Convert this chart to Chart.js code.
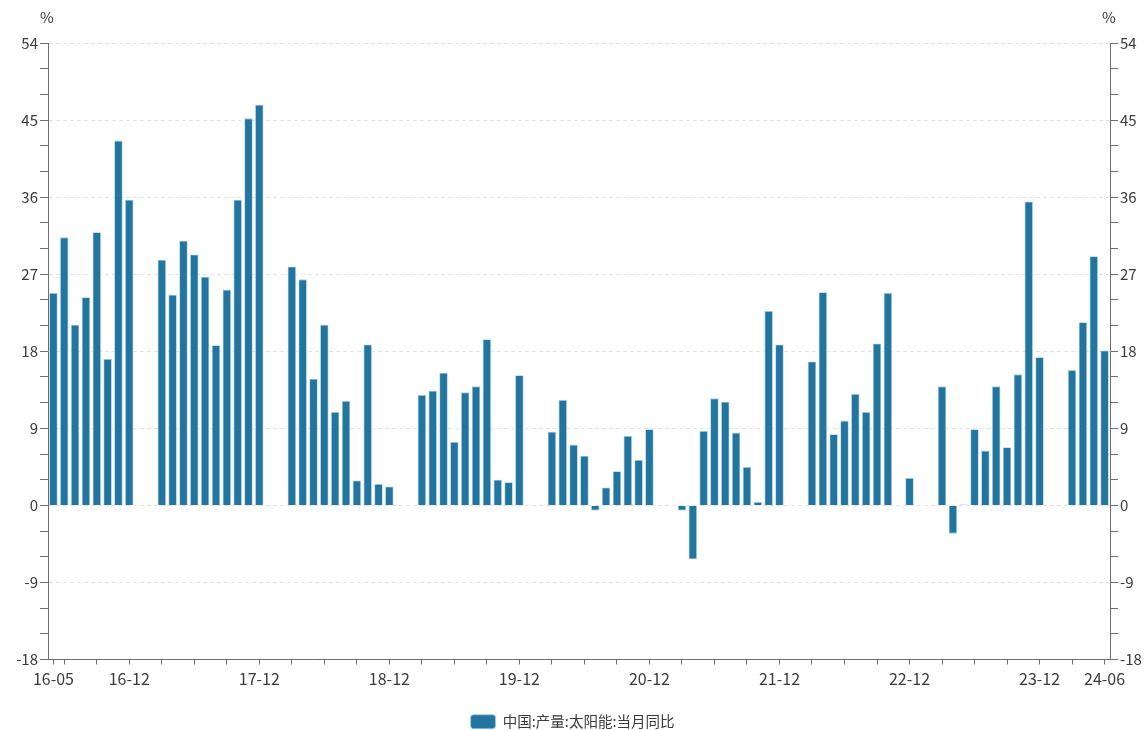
<!DOCTYPE html>
<html>
<head>
<meta charset="utf-8">
<script src="https://cdn.jsdelivr.net/npm/chart.js@4"></script>
<style>
  body { margin: 0; background: #fff; }
  #wrap { width: 1145px; height: 730px; }
</style>
</head>
<body>
<div id="wrap"><canvas id="solarChart"></canvas></div>
<script>
// 中国:产量:太阳能:当月同比 (%), 2016-05 .. 2024-06, 1-2月无数据
const seriesName = '中国:产量:太阳能:当月同比';
const startYear = 2016, startMonth = 5, endYear = 2024, endMonth = 6;

const y2016 = [24.8, 31.3, 21.1, 24.3, 31.9, 17.1, 42.6, 35.7];           // 05-12
const y2017 = [null, null, 28.7, 24.6, 30.9, 29.3, 26.7, 18.7, 25.2, 35.7, 45.2, 46.8];
const y2018 = [null, null, 27.9, 26.4, 14.8, 21.1, 10.9, 12.2, 2.9, 18.8, 2.5, 2.2];
const y2019 = [null, null, 12.9, 13.4, 15.5, 7.4, 13.2, 13.9, 19.4, 3.0, 2.7, 15.2];
const y2020 = [null, null, 8.6, 12.3, 7.1, 5.8, -0.6, 2.1, 4.0, 8.1, 5.3, 8.9];
const y2021 = [null, null, -0.6, -6.3, 8.7, 12.5, 12.1, 8.5, 4.5, 0.4, 22.7, 18.8];
const y2022 = [null, null, 16.8, 24.9, 8.3, 9.9, 13.0, 10.9, 18.9, 24.8, 0.05, 3.2];
const y2023 = [null, null, 13.9, -3.3, 0.1, 8.9, 6.4, 13.9, 6.8, 15.3, 35.5, 17.3];
const y2024 = [null, null, 15.8, 21.4, 29.1, 18.1];                        // 01-06

const tickLabels = ['16-05', '16-12', '17-12', '18-12', '19-12', '20-12', '21-12', '22-12', '23-12', '24-06'];
const yMin = -18, yMax = 54, yStep = 9;

const values = [].concat(y2016, y2017, y2018, y2019, y2020, y2021, y2022, y2023, y2024);

// month labels yy-mm
const labels = [];
for (let y = startYear, m = startMonth; y < endYear || (y === endYear && m <= endMonth); ) {
  labels.push(String(y % 100).padStart(2, '0') + '-' + String(m).padStart(2, '0'));
  m++;
  if (m > 12) { m = 1; y++; }
}

const barColor = '#21759f';
const axisColor = '#6e6e6e';

function isQuarterTick(i) {
  if (i === 0 || i === labels.length - 1) return true;
  const mon = parseInt(labels[i].slice(3), 10);
  return mon % 3 === 0;
}

// "%" above both y axes
const unitLabels = {
  id: 'unitLabels',
  afterDraw(chart) {
    const ctx = chart.ctx;
    const top = chart.chartArea.top;
    ctx.save();
    ctx.fillStyle = '#333';
    ctx.font = "15px 'Noto Sans CJK SC', sans-serif";
    ctx.textAlign = 'center';
    ctx.textBaseline = 'middle';
    ctx.fillText('%', chart.scales.y.right - 1, top - 26);
    ctx.fillText('%', chart.scales.y2.left - 1, top - 26);
    ctx.restore();
  }
};

Chart.defaults.font.family = "'Noto Sans CJK SC', 'Noto Sans', sans-serif";
Chart.defaults.font.size = 15;
Chart.defaults.color = '#3a3a3a';

function yAxis(position, width) {
  return {
    type: 'linear',
    position: position,
    min: yMin,
    max: yMax,
    afterFit: s => { s.width = width; },
    ticks: {
      stepSize: yStep / 3,
      padding: 2,
      font: { size: 15 },
      callback: v => (v % yStep === 0 ? v : '')
    },
    grid: {
      drawOnChartArea: position === 'left',
      color: c => (c.tick && c.tick.value % yStep === 0 && c.tick.value !== yMin ? '#e3e3e3' : 'rgba(0,0,0,0)'),
      tickColor: axisColor,
      tickLength: 8
    },
    border: { color: axisColor, dash: [4, 3] }
  };
}

new Chart(document.getElementById('solarChart').getContext('2d'), {
  type: 'bar',
  data: {
    labels: labels,
    datasets: [{
      label: seriesName,
      data: values,
      backgroundColor: barColor,
      borderColor: '#a9cce0',
      borderWidth: 0.8,
      barPercentage: 0.78,
      categoryPercentage: 1
    }]
  },
  options: {
    responsive: true,
    maintainAspectRatio: false,
    animation: false,
    layout: { padding: { top: 43, bottom: -9 } },
    scales: {
      x: {
        afterFit: s => { s.height = 54; },
        ticks: {
          autoSkip: false,
          maxRotation: 0,
          padding: 5,
          font: { size: 16 },
          callback: function (v, i) {
            const lab = labels[i];
            return tickLabels.includes(lab) ? lab : '';
          }
        },
        grid: {
          offset: false,
          drawOnChartArea: false,
          tickLength: 5,
          tickColor: c => (isQuarterTick(c.index) ? axisColor : 'rgba(0,0,0,0)')
        },
        border: { color: axisColor }
      },
      y: yAxis('left', 48),
      y2: yAxis('right', 35)
    },
    plugins: {
      legend: {
        position: 'bottom',
        labels: {
          boxWidth: 25,
          boxHeight: 14,
          useBorderRadius: true,
          borderRadius: 3,
          padding: 1,
          color: '#3a3a3a',
          font: { size: 14.5 }
        }
      },
      tooltip: { enabled: false }
    }
  },
  plugins: [unitLabels]
});
</script>
</body>
</html>
